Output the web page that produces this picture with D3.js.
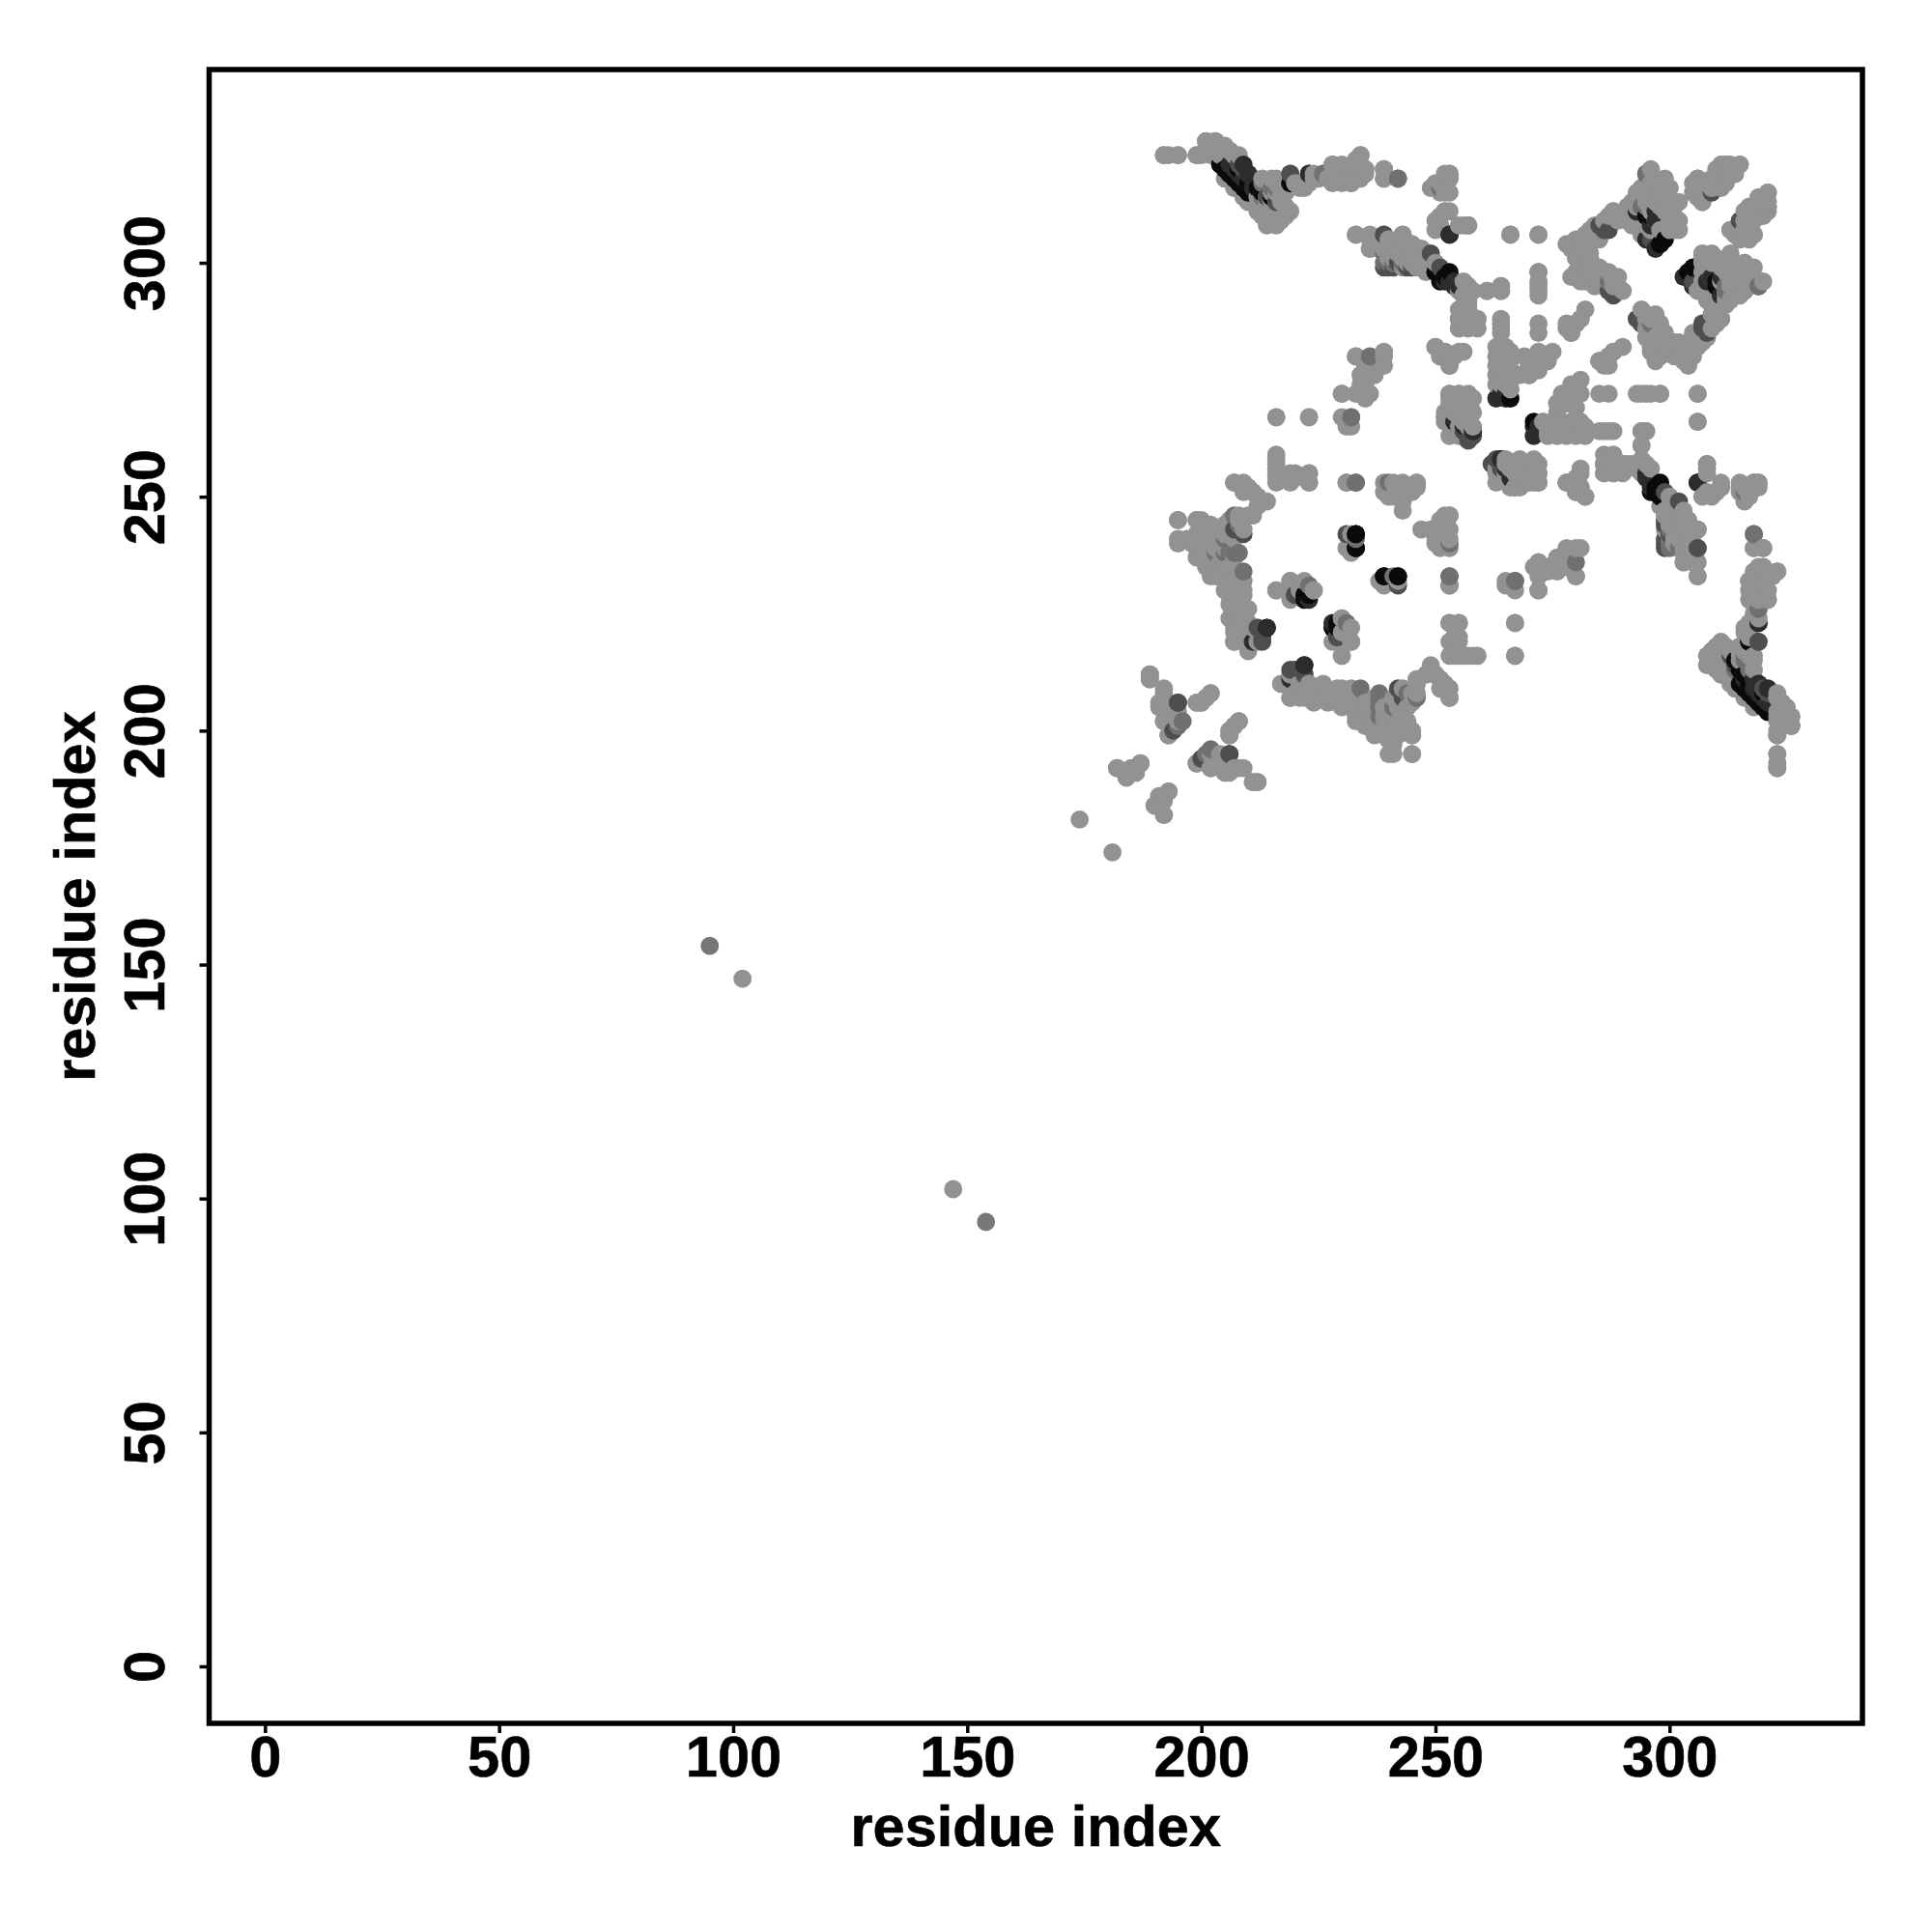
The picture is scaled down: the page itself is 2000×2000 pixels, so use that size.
<!DOCTYPE html>
<html><head><meta charset="utf-8">
<style>html,body{margin:0;padding:0;background:#fff}</style>
<script src="https://cdn.jsdelivr.net/npm/d3@7"></script></head>
<body><svg id="c" width="2000" height="2000"></svg>
<script>
const xTicks=[0,50,100,150,200,250,300];
const yTicks=[0,50,100,150,200,250,300];
const axisTitle="residue index";
// contacts as [lower residue, higher residue]; the map is symmetric
const contactsWeak=[[95,154]];
const contactsFaint=[[102,147],[174,181],
[192,323],[193,323],[195,323],[199,323],[201,326],[203,326],[201,324],[202,323],[203,324],[204,323],[205,324],[206,324],[207,323],[208,323],
[205,318],[207,316],[209,314],[210,313],[212,311],[213,310],[214,311],[215,311],[216,311],[215,313],[214,313],[216,315],[216,318],[217,317],[217,315],[218,315],[221,317],[222,316],[223,317],[224,318],[228,321],[228,319],[229,318],[229,320],[230,317],[231,318],[231,320],[232,317],[232,319],[233,318],[233,320],[234,323],[234,321],[235,320],[235,319],[239,320],[239,318],
[250,316],[251,315],[251,317],[252,316],[252,319],[253,319],[253,318],[253,315],[250,309],[250,307],[252,311],[253,311],[256,308],[257,308],
[233,306],[236,305],[236,303],[240,305],[241,304],[243,306],[242,303],[243,301],[242,305],[243,299],[244,300],[245,301],[246,299],[247,299],[245,302],[247,303],[246,301],[249,301],[250,300],[255,295],[256,296],[257,295],[256,293],[258,294],[261,294],[264,294],[264,295],
[238,303],[239,304],[240,303],[240,301],[241,302],[241,300],[243,303],[244,302],[244,304],[246,302],[247,301],[248,300],[248,302],[238,305],
[255,290],[257,290],[255,288],[257,288],[259,288],[255,286],[257,286],[259,286],[256,287],[258,287],[257,291],
[239,281],[233,280],[235,278],[235,276],[235,274],[237,276],[236,272],[230,272],[234,273],[235,271],[250,282],[254,280],[256,281],[253,278],[252,281],[251,280],
[253,272],[255,272],[257,272],[258,271],[253,271],[216,267],[223,267],[231,265],[252,267],[253,263],[254,266],[255,265],[256,263],
[253,269],[254,268],[255,270],[256,268],[257,267],[258,268],[255,263],[256,266],[254,264],[255,267],[257,265],[256,265],
[216,258],[216,256],[216,254],[218,254],[219,255],[220,254],[223,253],[223,255],[231,253],[239,253],[239,251],[241,253],[242,250],[243,253],[244,252],[246,253],[245,251],[242,252],
[207,253],[209,253],[210,252],[211,251],[212,250],[213,249],[214,249],[212,248],
[195,245],[199,245],[200,245],[195,241],[197,241],[199,241],[200,240],[201,241],[206,245],[211,246],[205,242],[204,241],[199,239],[199,237],[203,238],[205,238],[207,238],[201,236],[203,233],[202,234],[205,233],[208,232],[208,231],[205,230],[206,227],[208,226],[209,226],[210,226],[207,223],[210,223],[212,222],[207,219],[209,219],
[198,240],[200,238],[201,239],[202,240],[203,236],[204,235],[205,236],[206,235],[207,234],[206,232],[207,230],[207,228],[208,228],[206,229],[209,230],[208,234],[206,224],[207,221],[208,221],[209,222],[210,221],[211,222],[212,219],
[216,230],[219,232],[222,232],[221,231],[222,229],[224,230],[228,219],[229,219],[232,219],[230,216],[230,224],[230,221],[232,242],[232,238],[239,231],
[247,243],[249,243],[252,246],[253,246],[252,244],[250,241],[252,240],[250,240],[253,231],[265,232],[267,230],[272,234],[272,233],[272,230],[274,234],[276,234],[278,235],[278,239],[280,239],[280,233],[277,236],
[253,223],[255,223],[253,219],[255,220],[253,216],[255,216],[257,216],[259,216],[267,223],[267,216],[246,211],[243,209],[249,213],[250,212],[251,211],[252,209],[253,207],[251,209],
[189,212],[189,211],[192,209],[192,207],[191,206],[192,205],[192,202],[193,199],[199,206],[200,206],[202,208],[201,207],[208,202],[206,200],[207,201],[206,199],
[199,193],[202,195],[202,192],[204,195],[205,191],[206,192],[208,192],[211,189],[212,189],
[182,192],[184,190],[185,191],[186,192],[187,193],[186,191],[190,184],[193,187],[192,185],[191,186],[192,182],
[219,207],[219,209],[217,210],[222,207],[223,209],[226,209],[227,207],[229,209],[230,207],[232,209],[233,207],[234,208],[233,202],[235,205],[235,203],[237,207],[238,201],[240,205],[243,207],[245,208],[246,210],[241,204],[243,203],[241,201],[245,199],[240,199],[240,195],[245,195],[236,204],[234,204],[239,203],[242,202],
[220,208],[221,210],[224,208],[225,208],[228,207],[229,206],[231,206],[232,205],[233,205],[234,203],[235,201],[236,202],[237,203],[237,205],[239,205],[241,207],[242,205],[244,205],[242,199],[243,200],[244,202],
[266,306],[272,306],[272,298],[272,295],[272,293],[272,287],[264,287],[264,285],[278,287],[279,285],[280,287],[281,288],
[264,281],[266,281],[265,281],[264,279],[266,279],[264,277],[266,277],[264,275],[266,275],[264,274],[266,273],
[269,280],[270,278],[272,279],[272,281],[274,280],[268,276],[270,276],[271,277],
[276,270],[277,272],[279,274],[280,272],[281,275],[278,270],[279,271],[280,273],[285,272],[294,272],[296,272],[298,272],[306,272],[306,266],
[274,265],[276,265],[278,265],[280,265],[274,263],[276,263],[278,263],[280,263],[282,265],[282,263],[273,266],[286,264],[288,264],[294,264],[295,264],[294,261],
[265,258],[266,257],[267,256],[268,257],[265,254],[266,252],[267,252],[268,252],
[268,255],[270,255],[271,257],[272,255],[272,253],[270,253],[269,254],[278,253],[281,255],[280,251],[282,250],[281,252],
[286,257],[288,257],[290,257],[286,255],[288,255],[287,256],[289,256],[292,257],[294,255],[293,256],
[308,257],[308,255],[308,251],[310,251],[311,252],[316,252],[318,253],[319,253],[317,250],[315,252],[316,249],
[318,239],[320,239],[320,235],[323,234],[321,233],[318,232],[318,230],[321,230],[319,228],[321,228],[319,226],
[317,232],[318,234],[317,228],[318,227],[319,230],[320,232],[322,233],[319,233],[318,225],[319,224],[317,220],[316,221],
[302,247],[303,246],[305,243],[306,243],[302,242],[304,241],[305,236],[303,236],[306,233],[305,240],[304,244],[302,245],[301,249],[300,247],
[298,248],[299,247],[300,245],[301,244],[302,244],[303,243],[304,245],[304,243],[303,241],[303,239],[304,238],[305,238],[306,236],[301,241],[302,239],
[295,319],[297,315],[298,317],[300,316],[302,313],[296,317],[295,316],[295,314],[298,314],[302,307],[301,307],[300,307],[301,308],[300,309],
[293,312],[293,314],[294,316],[296,320],[299,314],[300,312],[301,310],[302,309],[299,311],[297,313],[296,313],[291,309],[292,308],
[288,311],[292,312],[283,307],[281,305],[279,304],[280,303],[282,302],[280,305],[278,304],[283,304],[281,302],[284,305],[284,307],[285,306],
[306,318],[305,315],[306,316],[308,315],[307,313],[311,320],[312,321],[313,321],[315,321],[310,317],[311,318],
[305,317],[306,314],[307,315],[308,317],[309,316],[310,319],[312,319],[313,319],[312,318],
[321,315],[321,311],[320,313],[318,312],[316,311],[313,307],[318,306],[315,307],[316,309],[318,309],[317,312],
[319,310],[320,310],[321,312],[319,314],[316,307],[317,308],[316,306],[314,306],
[279,297],[281,299],[283,297],[285,298],[282,296],[286,295],[288,296],[289,295],[290,294],[287,296],[289,297],
[307,298],[309,297],[312,298],[316,300],[317,297],[318,297],[315,296],[314,293],[313,292],[313,295],[311,296],[312,294],
[306,294],[307,296],[308,295],[308,293],[309,291],[310,292],[311,292],[312,291],[314,295],[315,298],[316,297],[316,294],[315,293],[317,295],[318,299],
[295,288],[296,285],[294,287],[295,284],[296,286],[298,287],[299,285],[300,283],[296,281],[298,280],[302,281],[303,282],[301,280],[303,279],[305,281],[306,282],[305,285],[308,284],[309,289],[311,288],
[298,283],[299,282],[300,281],[301,283],[302,283],[297,284],[304,282],[304,280],[306,284],[307,284],[309,286],[310,287],
[285,279],[288,281],[290,282],[286,278],[287,280],
[208,246],[310,215],[311,219],[312,218],[313,217],[308,214],[309,214],[323,207],[324,206],[326,203],[326,201],[323,203],[323,200],[323,199],[323,195],[323,192],[324,204],[325,205],
[308,216],[309,217],[310,218],[311,216],[312,214],[313,213],[314,212],[312,216],[314,214],[315,215],[316,217],[317,216],[318,215],[318,213]
];
const contactsSoft=[[239,306],[242,318],[226,319],[219,319],[251,316],[213,314],[215,316],[232,267],[233,253],[209,234],[253,240],[253,233],[267,232],[196,202],[201,195],[280,236],[244,208],[300,239],[319,295],[318,242],[238,208],[238,207],[238,206],[238,205],[238,203],[294,312],[295,312],[205,241],[207,246],[241,233],[296,287],[239,302],[240,300],[316,216],[317,213],[300,243],[300,241],[231,223]];
const contactsMid=[[208,321],[209,320],[210,319],[211,318],[212,316],[213,315],[214,314],[216,313],[207,243],[213,220],[220,229],[242,231],[195,206],[194,200],[206,195],[242,209],[222,212],[219,213],[306,239],[319,219],[309,315],[307,286],[263,258],[262,257],[264,256],[285,308],[287,307],[295,310],[240,299],[239,299],[249,302],[251,299],[288,293],[287,294],[305,296],[241,299],[244,299],[245,299],[300,242],[229,220]];
const contactsDark=[[206,321],[207,320],[208,319],[209,318],[210,317],[211,316],[219,317],[223,319],[253,306],[252,296],[253,296],[254,295],[258,264],[214,222],[222,214],[306,253],[319,223],[319,210],[318,211],[321,209],[264,258],[265,256],[266,254],[296,254],[295,255],[293,311],[297,311],[296,308],[297,309],[303,297],[305,295],[311,293],[211,219],[223,228],[264,272],[265,272],[271,265],[271,263]];
const contactsBlack=[[204,321],[205,320],[206,319],[207,318],[208,317],[209,316],[210,315],[250,298],[251,297],[253,298],[233,239],[233,242],[239,233],[242,233],[297,252],[296,251],[298,250],[298,304],[299,305],[296,310],[304,298],[310,295],[266,271],[223,229],[229,222],[228,222],[317,219],[320,208],[319,207],[318,208],[317,210],[316,212],[315,213],[314,215]];

const tiers=[[contactsWeak,0.2],[contactsFaint,0],[contactsSoft,0.25],[contactsMid,0.5],[contactsDark,0.75],[contactsBlack,1]];
const grey=d3.scaleLinear().domain([0,1]).range(["#929292","#0a0a0a"]);
const points=[];
tiers.forEach(([list,level])=>list.forEach(([a,b])=>{
  points.push({x:a,y:b,level});points.push({x:b,y:a,level});
}));
points.sort((p,q)=>d3.ascending(p.x,q.x)||d3.ascending(p.y,q.y));

const frame={l:216.5,r:1928,t:72,b:1784};
const x=d3.scaleLinear().domain([-11.93,341.2]).range([frame.l,frame.r]);
const y=d3.scaleLinear().domain([-12.18,341.3]).range([frame.b,frame.t]);
const svg=d3.select("#c");
const fontFamily="'Liberation Sans',Arial,sans-serif";
const styleText=s=>s.attr("font-family",fontFamily).attr("font-weight","bold").attr("font-size",59.5)
  .attr("fill","#000").attr("stroke","#000").attr("stroke-width",0.6);
svg.append("g").selectAll("circle").data(points).join("circle")
  .attr("cx",d=>x(d.x)).attr("cy",d=>y(d.y)).attr("r",9.4).attr("fill",d=>grey(d.level));
svg.append("rect").attr("x",frame.l).attr("y",frame.t).attr("width",frame.r-frame.l).attr("height",frame.b-frame.t)
  .attr("fill","none").attr("stroke","#000").attr("stroke-width",5.5);
const gx=svg.append("g").attr("transform",`translate(0,${frame.b})`)
  .call(d3.axisBottom(x).tickValues(xTicks).tickSize(10));
gx.select(".domain").remove();
gx.selectAll("line").attr("stroke","#000").attr("stroke-width",3.5);
gx.selectAll("text").call(styleText).attr("dy",0).attr("y",55);
const gy=svg.append("g").attr("transform",`translate(${frame.l},0)`)
  .call(d3.axisLeft(y).tickValues(yTicks).tickSize(10));
gy.select(".domain").remove();
gy.selectAll("line").attr("stroke","#000").attr("stroke-width",3.5);
gy.selectAll("text").call(styleText).attr("text-anchor","middle").attr("dy",0).attr("x",0).attr("y",0)
  .attr("transform","translate(-47,0) rotate(-90)");
svg.append("text").attr("x",(frame.l+frame.r)/2).attr("y",1911).attr("text-anchor","middle").call(styleText).text(axisTitle);
svg.append("text").attr("transform",`translate(98,${(frame.t+frame.b)/2}) rotate(-90)`).attr("text-anchor","middle").call(styleText).text(axisTitle);
</script></body></html>
